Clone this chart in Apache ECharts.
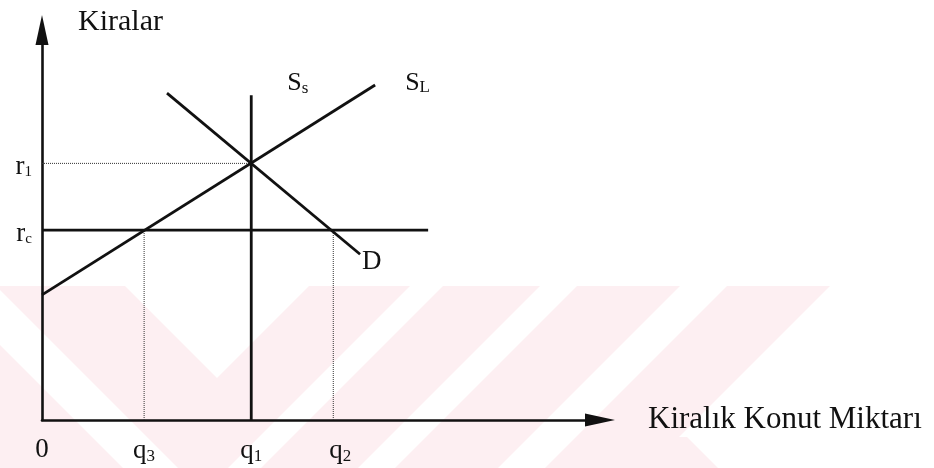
<!DOCTYPE html>
<html>
<head>
<meta charset="utf-8">
<script src="https://cdn.jsdelivr.net/npm/echarts@6/dist/echarts.min.js"></script>
<style>
  html, body { margin: 0; padding: 0; background: #fff; }
  #chart { width: 934px; height: 468px; }
</style>
</head>
<body>
<div id="chart"></div>
<script>
// kira tavanı diyagramı
var qValues = [0, 18.3, 37.5, 52.2];
var qLabels = ['0', 'q|3', 'q|1', 'q|2'];
var rValues = [48.7, 65.8];
var rLabels = ['r|c', 'r|1'];

var longSupply = [[0, 32.1], [59.7, 85.9]];
var shortSupply = [[37.5, 0], [37.5, 83.3]];
var demand = [[22.4, 83.8], [57, 42.5]];
var ceilingEnd = 69.2;

var serif = 'Liberation Serif';
var ink = '#111';

// "q|3" -> ana harf + alt simge
function sub(txt, cls) {
    var p = txt.split('|');
    if (p.length < 2) return '{' + cls + '|' + p[0] + '}';
    return '{' + cls + '|' + p[0] + '}{' + cls + 'Sub|' + p[1] + '}';
}

var richBase = {
    m: { fontFamily: serif, fontSize: 27, color: ink },
    mSub: { fontFamily: serif, fontSize: 17, color: ink, padding: [12, 0, 0, 0] },
    p: { fontFamily: serif, fontSize: 27, color: ink, padding: [0, 0, 0, 14] },
    pSub: { fontFamily: serif, fontSize: 17, color: ink, padding: [12, 0, 0, 0] },
    y: { fontFamily: serif, fontSize: 27, color: ink, padding: [8, 0, 0, 0] },
    ySub: { fontFamily: serif, fontSize: 15, color: ink, padding: [18, 0, 0, 0] },
    s: { fontFamily: serif, fontSize: 26, color: ink },
    sSub: { fontFamily: serif, fontSize: 17, color: ink, padding: [10, 0, 0, 0] }
};

// arka plandaki soluk filigran
var wm = '#fdeff2';
var watermark = [
    [[0, 286], [125, 286], [217, 378], [309, 286], [410, 286], [228, 468], [178, 468], [0, 290]],
    [[0, 345], [123, 468], [0, 468]],
    [[443, 286], [540, 286], [358, 468], [261, 468]],
    [[577, 286], [680, 286], [498, 468], [395, 468]],
    [[727, 286], [830, 286], [679, 437], [687, 437], [718, 468], [545, 468]]
].map(function (pts) {
    return { type: 'polygon', silent: true, z: 0, shape: { points: pts }, style: { fill: wm } };
});

function lineSeries(data, opts) {
    var s = {
        type: 'line',
        data: data,
        symbol: 'none',
        silent: true,
        z: 3,
        lineStyle: { color: ink, width: 2.8 }
    };
    for (var k in opts) s[k] = opts[k];
    return s;
}

function guide(data) {
    return lineSeries(data, { z: 2, lineStyle: { color: '#333', width: 1, type: [1, 1] } });
}

var chart = echarts.init(document.getElementById('chart'));
chart.setOption({
    animation: false,
    backgroundColor: '#fff',
    graphic: watermark,
    grid: { left: 42, top: 30, width: 558, height: 390 },
    xAxis: {
        type: 'value', min: 0, max: 100,
        splitLine: { show: false },
        axisTick: { show: false },
        axisLine: {
            show: true, onZero: false,
            symbol: ['none', 'triangle'], symbolSize: [13, 30],
            lineStyle: { color: ink, width: 2.6 }
        },
        axisLabel: {
            customValues: qValues,
            margin: 16,
            formatter: function (v) {
                var i = qValues.indexOf(v);
                if (i < 0) return '';
                return sub(qLabels[i], i === 3 ? 'p' : 'm');
            },
            rich: richBase
        },
        name: 'Kiralık Konut Miktarı',
        nameLocation: 'end',
        nameGap: 48,
        nameTextStyle: {
            fontFamily: serif, fontSize: 31, color: ink,
            align: 'left', verticalAlign: 'middle', padding: [0, 0, 10, 0]
        }
    },
    yAxis: {
        type: 'value', min: 0, max: 100,
        splitLine: { show: false },
        axisTick: { show: false },
        axisLine: {
            show: true, onZero: false,
            symbol: ['none', 'triangle'], symbolSize: [13, 30],
            lineStyle: { color: ink, width: 2.6 }
        },
        axisLabel: {
            customValues: rValues,
            margin: 10,
            formatter: function (v) {
                var i = rValues.indexOf(v);
                return i < 0 ? '' : sub(rLabels[i], 'y');
            },
            rich: richBase
        },
        name: 'Kiralar',
        nameLocation: 'end',
        nameGap: 8,
        nameTextStyle: {
            fontFamily: serif, fontSize: 30, color: ink,
            align: 'left', verticalAlign: 'middle', padding: [0, 0, 0, 36]
        }
    },
    series: [
        guide([[0, rValues[1]], [qValues[2], rValues[1]]]),
        guide([[qValues[1], 0], [qValues[1], rValues[0]]]),
        guide([[qValues[3], 0], [qValues[3], rValues[0]]]),
        lineSeries([[0, rValues[0]], [ceilingEnd, rValues[0]]], {}),
        lineSeries(longSupply, {
            endLabel: { show: true, formatter: '{s|S}{sSub|L}', rich: richBase, distance: 30, offset: [0, -2] }
        }),
        lineSeries(shortSupply, {
            endLabel: { show: true, formatter: '{s|S}{sSub|s}', rich: richBase, distance: 36, offset: [0, -12] }
        }),
        lineSeries(demand, {
            endLabel: { show: true, formatter: '{m|D}', rich: richBase, distance: 2, offset: [0, 8] }
        })
    ]
});
</script>
</body>
</html>
